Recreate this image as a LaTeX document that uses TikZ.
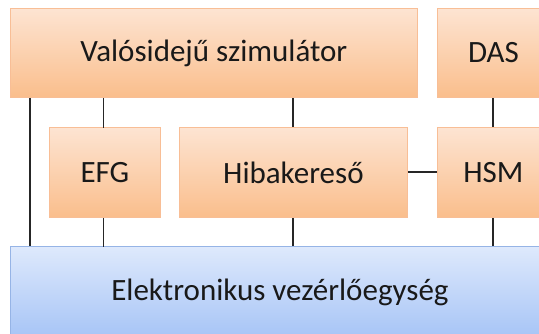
\documentclass[tikz,border=0pt]{standalone}
\usepackage{fontspec}
\setmainfont{Carlito}
\definecolor{orTop}{RGB}{253,228,210}
\definecolor{orBot}{RGB}{250,190,140}
\definecolor{orLine}{RGB}{248,190,150}
\definecolor{blTop}{RGB}{222,233,252}
\definecolor{blBot}{RGB}{166,196,246}
\definecolor{blLine}{RGB}{150,180,230}
\begin{document}
\begin{tikzpicture}[x=1pt,y=-1pt,
  blk/.style={draw=orLine, line width=0.8pt, top color=orTop, bottom color=orBot,
    anchor=north west, inner sep=0pt, font=\fontsize{31}{35}\selectfont, text=black!90},
  ecu/.style={draw=blLine, line width=0.8pt, top color=blTop, bottom color=blBot,
    anchor=north west, inner sep=0pt, font=\fontsize{31}{35}\selectfont, text=black!90},
  wire/.style={draw=black!85, line width=1.2pt}]
\useasboundingbox (0,0) rectangle (539,333);
\clip (0,0) rectangle (539,333);
% upper row
\node[blk, minimum width=407pt, minimum height=89pt] (sim) at (10,8) {Valósidejű szimulátor};
\node[blk, minimum width=112pt, minimum height=89pt] (das) at (437,8) {DAS};
% middle row
\node[blk, minimum width=111pt, minimum height=90pt] (efg) at (49,127) {EFG};
\node[blk, minimum width=228pt, minimum height=90pt] (hib) at (179,127) {Hibakereső};
\node[blk, minimum width=112pt, minimum height=90pt] (hsm) at (437,127) {HSM};
% control unit
\node[ecu, minimum width=539pt, minimum height=92pt] (ecu) at (10,246) {Elektronikus vezérlőegység};
% connections
\draw[wire] (sim.south west -| 30,0) -- (ecu.north west -| 30,0);
\draw[wire] (sim.south -| efg.north) ++(-1.5,0) -- ++(0,30);
\draw[wire] (efg.south) ++(-1.5,0) -- ++(0,29);
\draw[wire] (sim.south -| 293,0) -- (hib.north -| 293,0);
\draw[wire] (hib.south -| 293,0) -- (ecu.north -| 293,0);
\draw[wire] (das.south -| 493,0) -- (hsm.north -| 493,0);
\draw[wire] (hsm.south -| 493,0) -- (ecu.north -| 493,0);
\draw[wire] (hib.east |- 0,172) -- (hsm.west |- 0,172);
\end{tikzpicture}
\end{document}
